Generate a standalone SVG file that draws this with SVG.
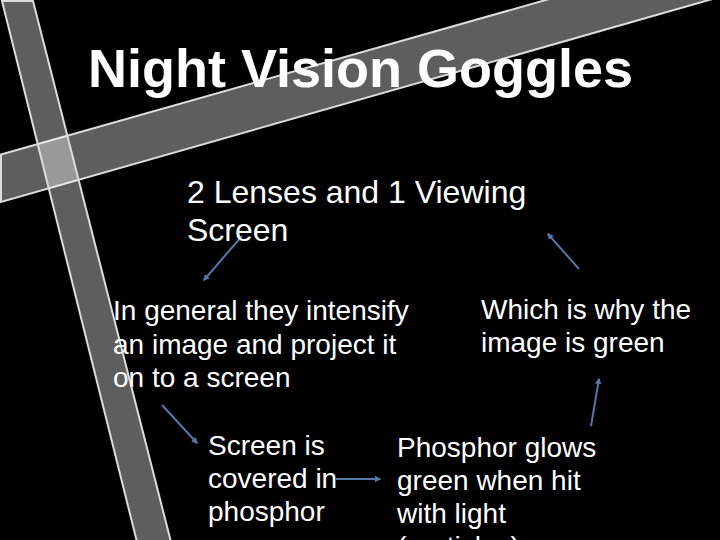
<svg xmlns="http://www.w3.org/2000/svg" width="720" height="540" viewBox="0 0 720 540">
  <style>
    .band { fill: #ffffff; fill-opacity: 0.37; stroke: #dcdcdc; stroke-width: 2; }
    .t { font-family: "Liberation Sans", Arial, sans-serif; fill: #ffffff; }
    .title { font-size: 54px; font-weight: bold; }
    .b32 { font-size: 32px; }
    .b28 { font-size: 28px; }
    .conn { stroke: #5677a8; stroke-width: 2; fill: none; marker-end: url(#ah); }
  </style>
  <defs>
    <marker id="ah" viewBox="0 0 10 10" refX="8" refY="5" markerWidth="3.2" markerHeight="3.2" orient="auto" markerUnits="strokeWidth">
      <path d="M0,0 L10,5 L0,10 Z" fill="#5677a8"/>
    </marker>
  </defs>
  <rect width="720" height="540" fill="#000000"/>
  <g id="decor">
    <polygon class="band" points="1,154.5 581,-10 744,-10 1,202"/>
    <polygon class="band" points="2,1 33,1 173,550 139,550"/>
  </g>
  <g id="title">
    <text class="t title" x="88" y="87">Night Vision Goggles</text>
  </g>
  <g id="connectors">
    <line class="conn" x1="242" y1="236" x2="204" y2="280"/>
    <line class="conn" x1="162" y1="405" x2="197" y2="443"/>
    <line class="conn" x1="336" y1="479" x2="380" y2="479"/>
    <line class="conn" x1="591" y1="426" x2="599" y2="379"/>
    <line class="conn" x1="579" y1="269" x2="548" y2="234"/>
  </g>
  <g id="node-lenses">
    <text class="t b32" x="187" y="203">2 Lenses and 1 Viewing<tspan x="187" dy="38">Screen</tspan></text>
  </g>
  <g id="node-intensify">
    <text class="t b28" x="113" y="320">In general they intensify<tspan x="113" dy="33.5">an image and project it</tspan><tspan x="113" dy="33.5">on to a screen</tspan></text>
  </g>
  <g id="node-screen">
    <text class="t b28" x="208" y="455">Screen is<tspan x="208" dy="33">covered in</tspan><tspan x="208" dy="33">phosphor</tspan></text>
  </g>
  <g id="node-phosphor">
    <text class="t b28" x="397" y="457">Phosphor glows<tspan x="397" dy="33">green when hit</tspan><tspan x="397" dy="33">with light</tspan><tspan x="397" dy="33">(particles)</tspan></text>
  </g>
  <g id="node-green">
    <text class="t b28" x="481" y="319">Which is why the<tspan x="481" dy="33">image is green</tspan></text>
  </g>
</svg>
